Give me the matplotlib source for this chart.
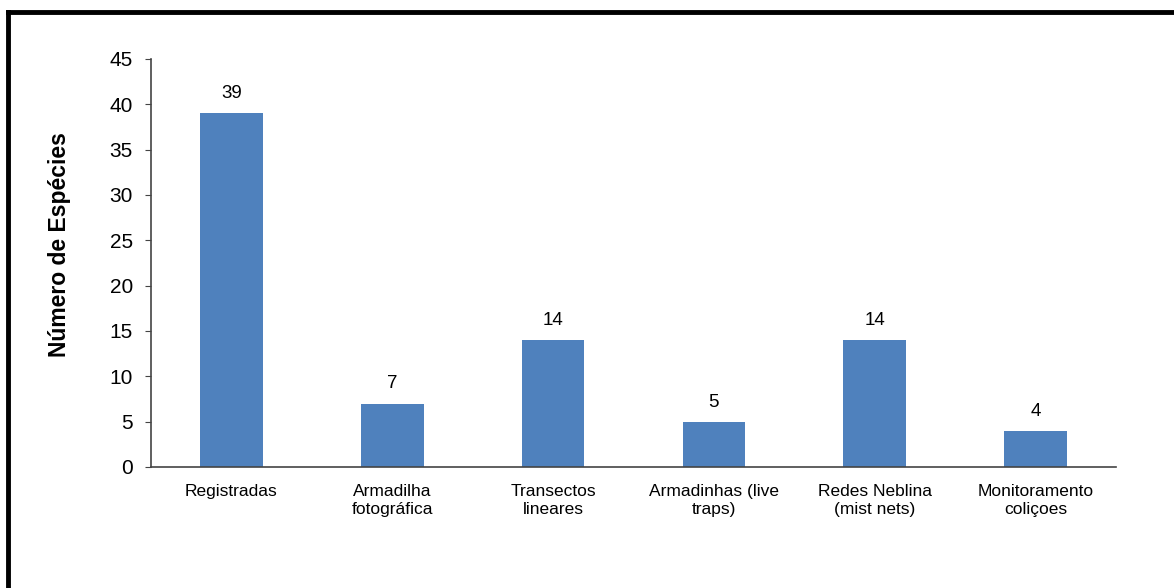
import matplotlib.pyplot as plt
from matplotlib.lines import Line2D

categories = ['Registradas', 'Armadilha\nfotográfica', 'Transectos\nlineares',
              'Armadinhas (live\ntraps)', 'Redes Neblina\n(mist nets)', 'Monitoramento\ncoliçoes']
values = [39, 7, 14, 5, 14, 4]

plt.rcParams['font.family'] = ['Liberation Sans', 'DejaVu Sans']

fig = plt.figure(figsize=(11.74, 5.88), dpi=100)
ax = fig.add_axes([0.1286, 0.2058, 0.822, 0.694])

x = range(len(categories))
bars = ax.bar(x, values, width=0.39, color='#4F81BD')
ax.set_xlim(-0.5, len(categories) - 0.5)
ax.set_ylim(0, 45)
ax.set_yticks(range(0, 46, 5))
ax.tick_params(axis='y', labelsize=15, length=4, color='#444444', direction='out', pad=9)
ax.set_xticks(list(x))
ax.set_xticklabels(categories, fontsize=12.5, linespacing=1.25)
ax.tick_params(axis='x', length=0, pad=12)

for b, v in zip(bars, values):
    ax.annotate(str(v), (b.get_x() + b.get_width() / 2, v), xytext=(0, 8),
                textcoords='offset points', ha='center', va='bottom', fontsize=13.5)

for side in ['top', 'right']:
    ax.spines[side].set_visible(False)
for side in ['left', 'bottom']:
    ax.spines[side].set_color('#444444')
    ax.spines[side].set_linewidth(1.2)

ax.set_ylabel('Número de Espécies', fontsize=16.5, fontweight='bold', labelpad=28)
ax.yaxis.label.set_y(0.545)

# outer frame (left and top edges)
x0 = 8 / 1174
y0 = 1 - 12 / 588
fig.add_artist(Line2D([x0, x0], [0, y0], transform=fig.transFigure,
                      color='black', linewidth=3.5, solid_capstyle='projecting'))
fig.add_artist(Line2D([x0, 1], [y0, y0], transform=fig.transFigure,
                      color='black', linewidth=3.5, solid_capstyle='projecting'))

fig.savefig('out.png', dpi=100)
